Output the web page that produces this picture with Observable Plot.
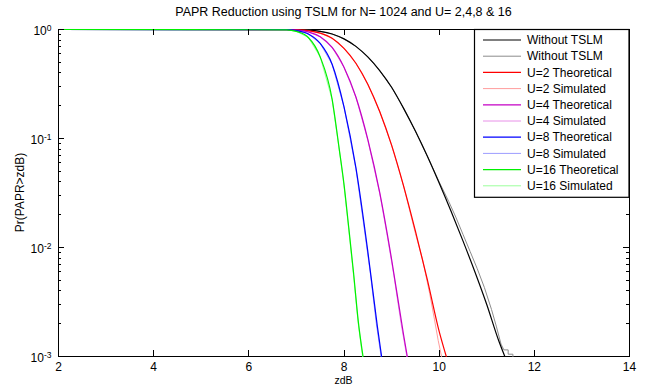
<!DOCTYPE html>
<html><head><meta charset="utf-8">
<script src="https://cdn.jsdelivr.net/npm/d3@7"></script>
<script src="https://cdn.jsdelivr.net/npm/@observablehq/plot@0.6"></script>
<style>
body{margin:0;background:#fff;}
#chart svg{font-family:"Liberation Sans",Arial,sans-serif;background:#fff;}
</style>
</head><body><div id="chart"></div>
<script>
const titleText = "PAPR Reduction using TSLM for N= 1024 and U= 2,4,8 & 16";
const xLabel = "zdB";
const yLabel = "Pr(PAPR>zdB)";
const xTicks = [2, 4, 6, 8, 10, 12, 14];
const yTicks = [1, 0.1, 0.01, 0.001];
const yTickExp = ["0", "-1", "-2", "-3"];
const yMinorMult = [2, 3, 4, 5, 6, 7, 8, 9];

const seriesNames = ["Without TSLM", "Without TSLM", "U=2 Theoretical", "U=2 Simulated",
  "U=4 Theoretical", "U=4 Simulated", "U=8 Theoretical", "U=8 Simulated",
  "U=16 Theoretical", "U=16 Simulated"];
const seriesColors = ["#000000", "#8c8c8c", "#ff0000", "#ff9c9c", "#c400c4", "#e890e8",
  "#0000ff", "#9c9cff", "#00f000", "#9cff9c"];

// Without TSLM (theoretical / simulated)
const xOrigTh = [2, 6.8, 7, 7.25, 7.5, 7.75, 8, 8.25, 8.5, 8.75, 9, 9.25, 9.5, 9.75, 10, 10.25, 10.5, 10.75, 11, 11.25, 11.38];
const pOrigTh = [1, 0.9995, 0.997, 0.988, 0.962, 0.91, 0.82, 0.70, 0.56, 0.42, 0.295, 0.19, 0.117, 0.069, 0.039, 0.0215, 0.0115, 0.006, 0.003, 0.0014, 0.001];
const xOrigSim = [2, 6.8, 7, 7.25, 7.5, 7.75, 8, 8.25, 8.5, 8.75, 9, 9.25, 9.5, 9.75, 10, 10.2, 10.35, 10.5, 10.65, 10.8, 10.95, 11.1, 11.2, 11.3, 11.36, 11.45, 11.45, 11.55, 11.55];
const pOrigSim = [1, 0.9995, 0.997, 0.988, 0.962, 0.91, 0.82, 0.70, 0.56, 0.42, 0.295, 0.19, 0.117, 0.069, 0.04, 0.0265, 0.019, 0.0132, 0.0092, 0.0064, 0.0043, 0.0027, 0.0019, 0.0013, 0.00115, 0.00115, 0.00105, 0.00105, 0.001];
// U=2
const xU2Th = [2, 6.8, 7, 7.25, 7.5, 7.75, 8, 8.25, 8.5, 8.75, 9, 9.25, 9.5, 9.75, 10, 10.15];
const pU2Th = [1, 0.999, 0.994, 0.976, 0.925, 0.83, 0.67, 0.49, 0.315, 0.177, 0.087, 0.037, 0.0142, 0.0051, 0.0017, 0.001];
const xU2Sim = [2, 6.8, 7, 7.25, 7.5, 7.75, 8, 8.25, 8.5, 8.75, 9, 9.25, 9.5, 9.65, 9.8, 9.9, 9.98, 10.05];
const pU2Sim = [1, 0.999, 0.994, 0.976, 0.925, 0.83, 0.67, 0.49, 0.315, 0.177, 0.087, 0.037, 0.0135, 0.0078, 0.0038, 0.0022, 0.0014, 0.001];
// U=4
const xU4Th = [2, 6.8, 7, 7.25, 7.5, 7.75, 8, 8.25, 8.5, 8.75, 9, 9.25, 9.33];
const pU4Th = [1, 0.998, 0.988, 0.952, 0.856, 0.685, 0.45, 0.24, 0.098, 0.032, 0.0078, 0.0016, 0.001];
const xU4Sim = [2, 6.8, 7, 7.25, 7.5, 7.75, 8, 8.25, 8.5, 8.75, 8.9, 9.05, 9.2, 9.32];
const pU4Sim = [1, 0.998, 0.988, 0.952, 0.856, 0.685, 0.45, 0.24, 0.097, 0.0315, 0.0135, 0.0055, 0.002, 0.001];
// U=8
const xU8Th = [2, 6.8, 7, 7.25, 7.5, 7.75, 8, 8.25, 8.5, 8.6, 8.7, 8.79];
const pU8Th = [1, 0.996, 0.976, 0.91, 0.745, 0.48, 0.195, 0.054, 0.0092, 0.0042, 0.0019, 0.001];
const xU8Sim = [2, 6.8, 7, 7.25, 7.5, 7.75, 8, 8.25, 8.4, 8.55, 8.68, 8.78];
const pU8Sim = [1, 0.996, 0.976, 0.91, 0.745, 0.48, 0.195, 0.053, 0.018, 0.006, 0.002, 0.001];
// U=16
const xU16Th = [2, 6.8, 7, 7.25, 7.5, 7.75, 7.9, 8.0, 8.1, 8.2, 8.3, 8.4];
const pU16Th = [1, 0.993, 0.96, 0.845, 0.56, 0.23, 0.08, 0.038, 0.0152, 0.0059, 0.0021, 0.001];
const xU16Sim = [2, 6.8, 7, 7.25, 7.5, 7.75, 7.9, 8.0, 8.1, 8.2, 8.3, 8.39];
const pU16Sim = [1, 0.993, 0.96, 0.845, 0.56, 0.228, 0.079, 0.037, 0.0146, 0.0056, 0.002, 0.001];

const seriesX = [xOrigTh, xOrigSim, xU2Th, xU2Sim, xU4Th, xU4Sim, xU8Th, xU8Sim, xU16Th, xU16Sim];
const seriesP = [pOrigTh, pOrigSim, pU2Th, pU2Sim, pU4Th, pU4Sim, pU8Th, pU8Sim, pU16Th, pU16Sim];

const W = 646, H = 386;
const mL = 58, mR = 17, mT = 29, mB = 30;

const tables = seriesX.map((xs, i) => xs.map((x, j) => ({x, p: seriesP[i][j], s: i})));
const isSim = i => i % 2 === 1;
const simIdx = [1, 3, 5, 7, 9], thIdx = [0, 2, 4, 6, 8];

const marks = [
  Plot.frame({stroke: "#000", strokeWidth: 1}),
  Plot.axisX({ticks: xTicks, tickSize: 0, tickPadding: 6, fontSize: 12, label: null, tickFormat: d => String(d)}),
  Plot.axisY({ticks: yTicks, tickSize: 0, tickPadding: 7, fontSize: 12, label: null, dy: 2,
    tickFormat: d => "10|" + yTickExp[yTicks.indexOf(d)]}),
  ...simIdx.map(i => Plot.line(tables[i], {x: "x", y: "p", stroke: seriesColors[i], strokeWidth: 1, curve: "linear"})),
  ...thIdx.map(i => Plot.line(tables[i], {x: "x", y: "p", stroke: seriesColors[i], strokeWidth: 1.2, curve: "monotone-x"}))
];

const plot = Plot.plot({
  width: W, height: H,
  marginLeft: mL, marginRight: mR, marginTop: mT, marginBottom: mB,
  style: {fontFamily: '"Liberation Sans", Arial, sans-serif', fontSize: "12px", color: "#000", background: "#fff"},
  x: {domain: [2, 14]},
  y: {type: "log", domain: [0.001, 1]},
  marks
});
document.getElementById("chart").append(plot);

const svg = d3.select(plot);
const sx = plot.scale("x"), sy = plot.scale("y");
const x0 = sx.apply(2), x1 = sx.apply(14), y0 = sy.apply(0.001), y1 = sy.apply(1);

// superscript exponents on y tick labels
svg.selectAll('g[aria-label="y-axis tick label"] text').each(function() {
  const parts = this.textContent.split("|");
  this.textContent = parts[0];
  d3.select(this).append("tspan").attr("dy", "-0.55em").attr("font-size", 8.5).text(parts[1]);
});

// inward ticks
const tg = svg.append("g").attr("stroke", "#000").attr("stroke-width", 1);
xTicks.forEach(v => {
  const px = Math.round(sx.apply(v)) + 0.5;
  tg.append("line").attr("x1", px).attr("x2", px).attr("y1", y0).attr("y2", y0 - 6);
  tg.append("line").attr("x1", px).attr("x2", px).attr("y1", y1).attr("y2", y1 + 6);
});
yTicks.forEach((v, k) => {
  const py = Math.round(sy.apply(v)) + 0.5;
  tg.append("line").attr("x1", x0).attr("x2", x0 + 6).attr("y1", py).attr("y2", py);
  tg.append("line").attr("x1", x1).attr("x2", x1 - 6).attr("y1", py).attr("y2", py);
  if (k > 0) yMinorMult.forEach(m => {
    const pm = Math.round(sy.apply(v * m)) + 0.5;
    tg.append("line").attr("x1", x0).attr("x2", x0 + 3).attr("y1", pm).attr("y2", pm);
    tg.append("line").attr("x1", x1).attr("x2", x1 - 3).attr("y1", pm).attr("y2", pm);
  });
});

// title and axis labels
svg.append("text").attr("x", (x0 + x1) / 2).attr("y", 16).attr("text-anchor", "middle")
  .attr("font-size", 12.5).attr("fill", "#000").text(titleText);
svg.append("text").attr("x", (x0 + x1) / 2).attr("y", 383.5).attr("text-anchor", "middle")
  .attr("font-size", 10.5).attr("fill", "#000").text(xLabel);
svg.append("text").attr("transform", `translate(24,${(y0 + y1) / 2}) rotate(-90)`).attr("text-anchor", "middle")
  .attr("font-size", 12).attr("fill", "#000").text(yLabel);

// legend
const lgL = 474, lgT = y1, lgR = x1, rowH = 16.2, firstRow = 40;
const lg = svg.append("g");
lg.append("rect").attr("x", lgL + 0.5).attr("y", lgT + 0.5).attr("width", lgR - lgL - 0.5)
  .attr("height", firstRow - lgT + rowH * 9 + 11).attr("fill", "#fff").attr("stroke", "#000").attr("stroke-width", 1.2);
seriesNames.forEach((name, i) => {
  const yy = firstRow + i * rowH;
  lg.append("line").attr("x1", 483).attr("x2", 521).attr("y1", yy).attr("y2", yy)
    .attr("stroke", seriesColors[i]).attr("stroke-width", isSim(i) ? 1 : 1.2);
  lg.append("text").attr("x", 527).attr("y", yy).attr("dy", "0.35em").attr("font-size", 12)
    .attr("text-anchor", "start").attr("fill", "#000").text(name);
});
</script>
</body></html>
